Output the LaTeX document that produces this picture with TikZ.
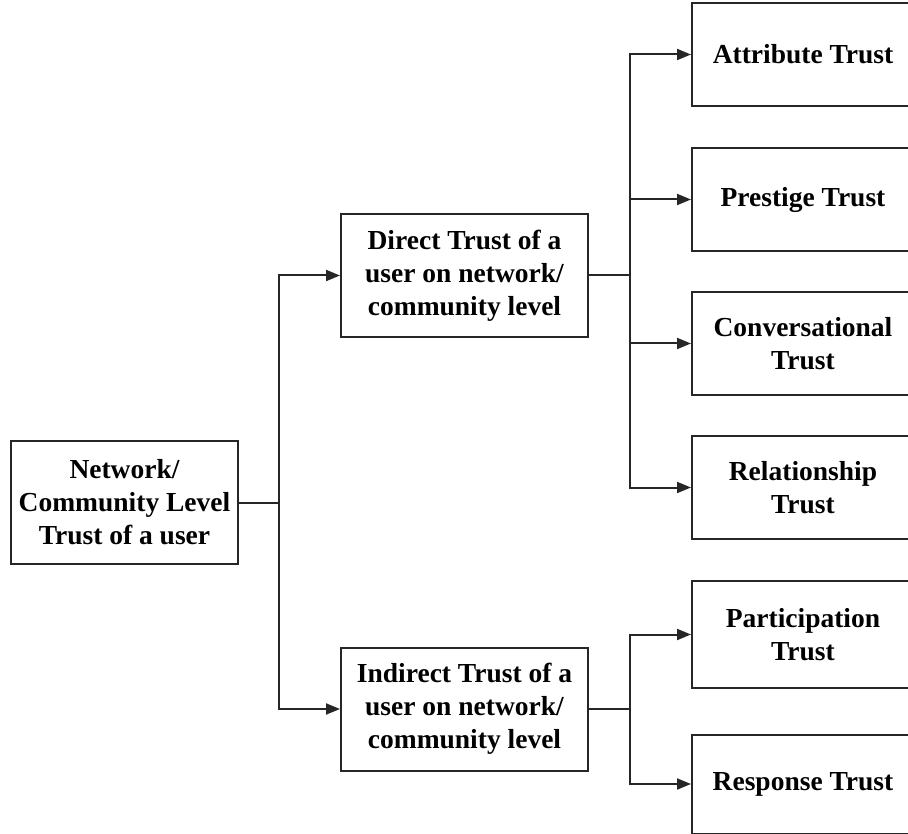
\documentclass[tikz,border=0pt]{standalone}
\usepackage{fontspec}
\setmainfont{Liberation Serif}
\usetikzlibrary{arrows.meta}
\begin{document}
\begin{tikzpicture}[x=1pt,y=-1pt,
  box/.style={draw=black!85, line width=2pt, align=center, inner sep=0pt,
    font=\bfseries\fontsize{27.5}{33}\selectfont},
  leaf/.style={box, minimum width=222pt, minimum height=103pt},
  mid/.style={box, minimum width=247pt, minimum height=123pt},
  link/.style={draw=black!85, line width=2pt},
  arr/.style={link, -{Triangle[length=14pt,width=11pt]}}]
\useasboundingbox (0,0) rectangle (908,834);
\clip (0,0) rectangle (908,834);

% root
\node[box, minimum width=227pt, minimum height=123pt] (net) at (124.5,502.5)
  {Network/\\Community Level\\Trust of a user};

% second level
\node[mid] (direct) at (464.5,275.5) {Direct Trust of a\\user on network/\\community level};
\node[mid] (indirect) at (464.5,709) {Indirect Trust of a\\user on network/\\community level};

% leaves
\node[leaf] (attr) at (803,54.5) {Attribute Trust};
\node[leaf] (prest) at (803,199.5) {Prestige Trust};
\node[leaf] (conv) at (803,343.5) {Conversational\\Trust};
\node[leaf] (rel) at (803,487.5) {Relationship\\Trust};
\node[leaf, minimum height=107pt] (part) at (803,634.5) {Participation\\Trust};
\node[leaf, minimum height=99pt] (resp) at (803,784) {Response Trust};

% branching points
\coordinate (t0) at (279,502.5);
\coordinate (t1) at (630,275.5);
\coordinate (t2) at (630,709);

% root to second level
\draw[link] (net.east) -- (t0);
\draw[arr] (t0) |- (direct.west);
\draw[arr] (t0) |- (indirect.west);

% direct trust branches
\draw[link] (direct.east) -- (t1);
\draw[arr] (t1) |- (attr.west);
\draw[arr] (t1) |- (prest.west);
\draw[arr] (t1) |- (conv.west);
\draw[arr] (t1) |- (rel.west);

% indirect trust branches
\draw[link] (indirect.east) -- (t2);
\draw[arr] (t2) |- (part.west);
\draw[arr] (t2) |- (resp.west);
\end{tikzpicture}
\end{document}
